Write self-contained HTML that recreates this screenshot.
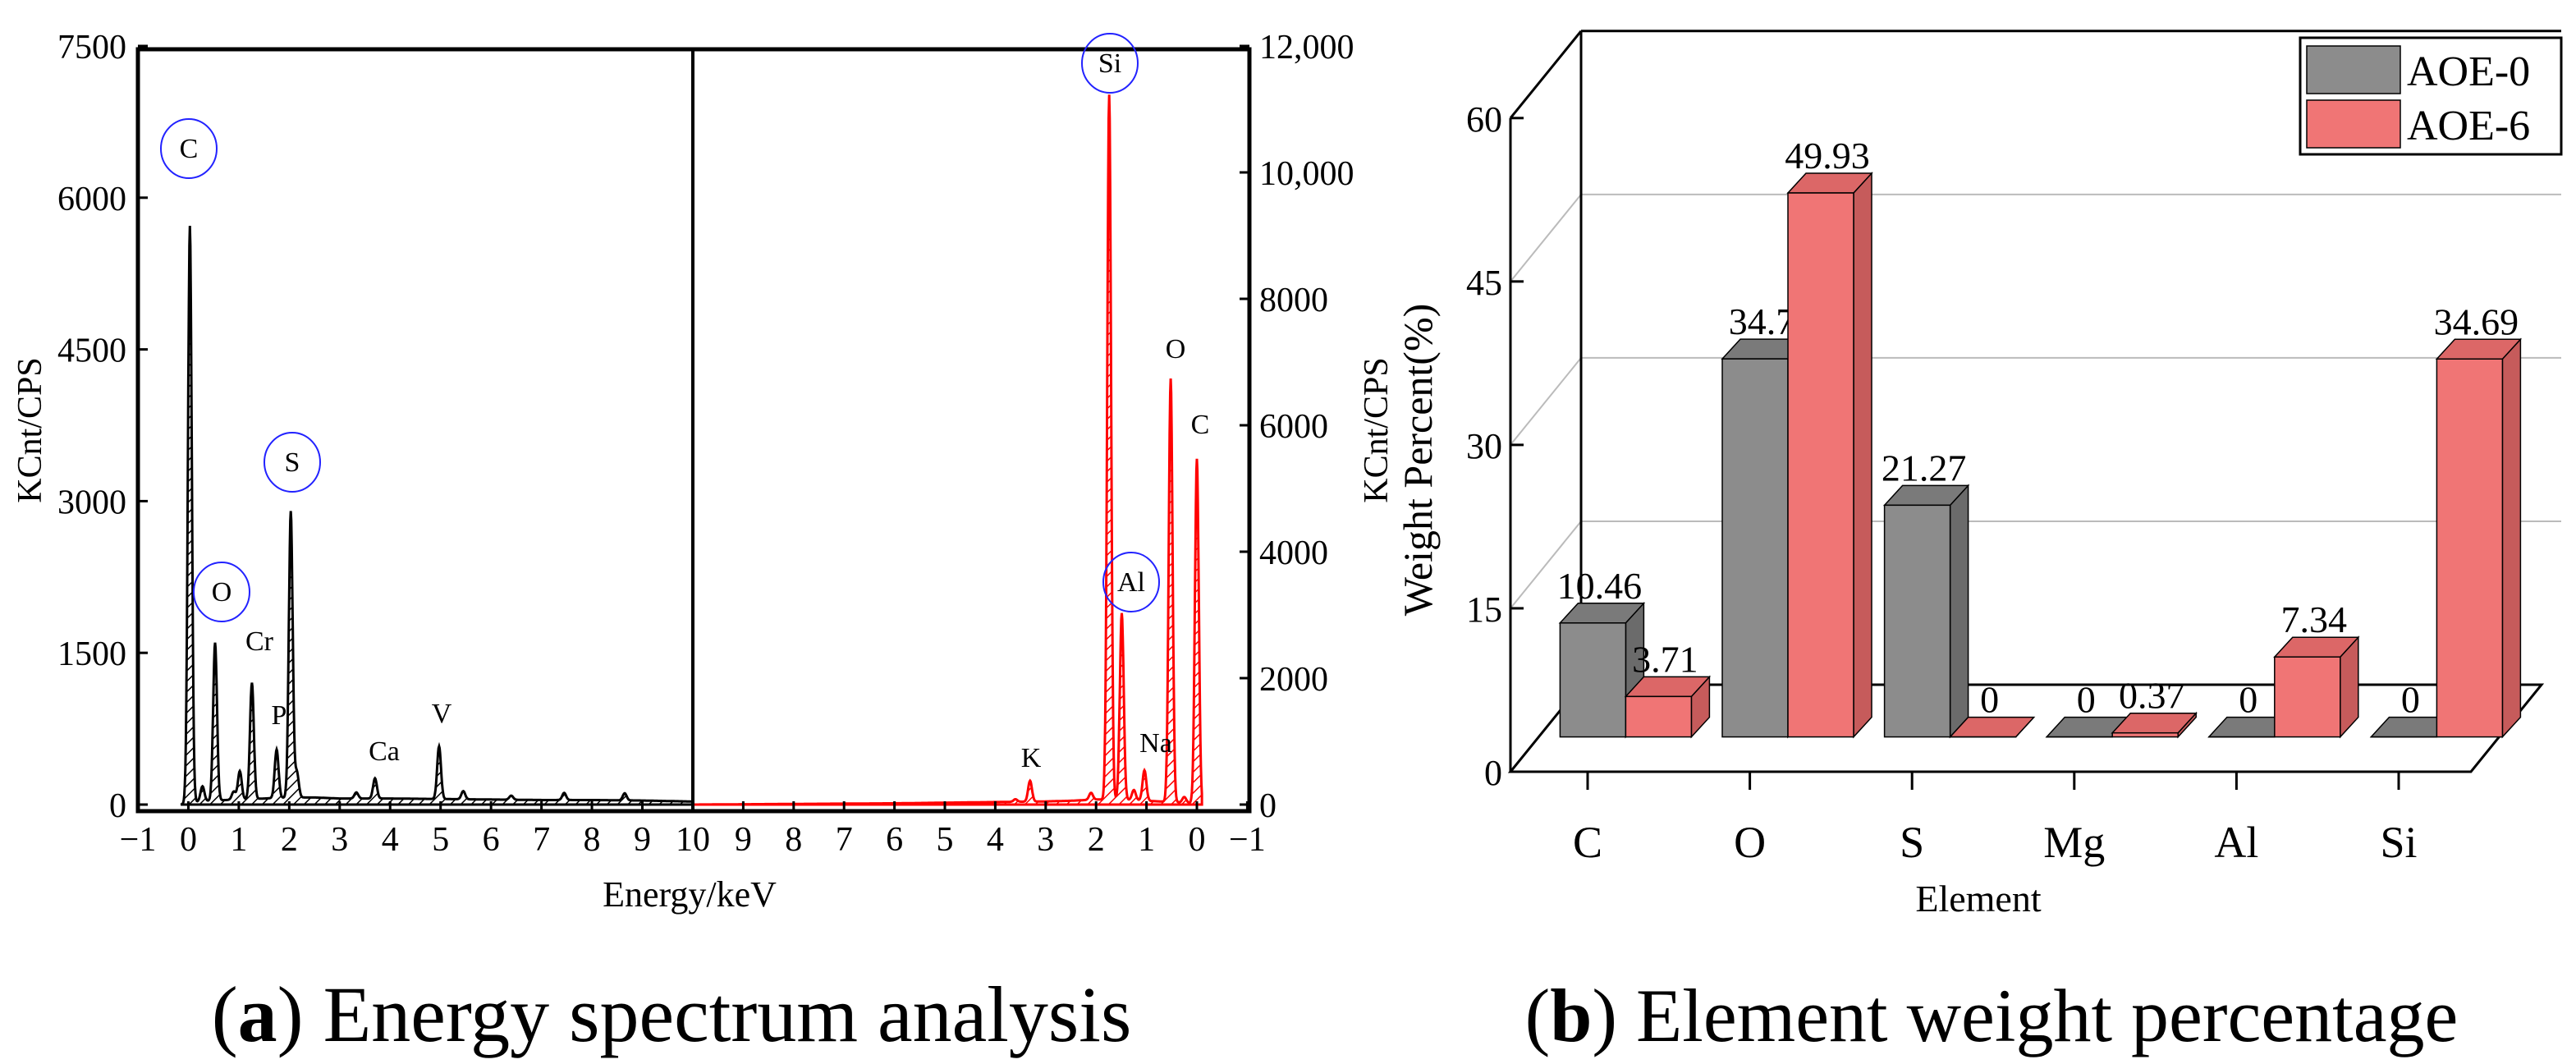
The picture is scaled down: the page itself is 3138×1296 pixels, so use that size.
<!DOCTYPE html>
<html><head><meta charset="utf-8"><style>
body{margin:0;background:#fff}
svg{display:block}
text{font-family:"Liberation Serif",serif}
</style></head><body>
<svg id="s" width="3138" height="1296" viewBox="0 0 3138 1296" xmlns="http://www.w3.org/2000/svg">
<defs>
<pattern id="hb" patternUnits="userSpaceOnUse" width="9" height="9" patternTransform="rotate(45)"><line x1="0" y1="0" x2="0" y2="9" stroke="#000" stroke-width="3"/></pattern>
<pattern id="hr" patternUnits="userSpaceOnUse" width="9" height="9" patternTransform="rotate(45)"><line x1="0" y1="0" x2="0" y2="9" stroke="#f00" stroke-width="3"/></pattern>
</defs>
<g id="spec"></g>
<g id="bar"></g>
<text x="818" y="1268" font-size="96" text-anchor="middle">(<tspan font-weight="bold">a</tspan>) Energy spectrum analysis</text>
<text x="2426" y="1268" font-size="92" text-anchor="middle">(<tspan font-weight="bold">b</tspan>) Element weight percentage</text>
</svg>
<script>
// ---- spectrum data ----
const peaksLeftE = [0.03, 0.28, 0.53, 0.9, 1.02, 1.26, 1.75, 2.03, 2.15, 3.33, 3.7, 4.97, 5.45, 6.4, 7.45, 8.65];
const peaksLeftC = [5700, 150, 1560, 80, 280, 1150, 480, 2830, 250, 60, 200, 520, 80, 40, 70, 70];
const baseLeftE = [-0.15, 0, 0.5, 1, 1.5, 2, 2.5, 3, 4, 5, 6, 7, 8, 9, 10];
const baseLeftC = [0, 20, 40, 50, 60, 70, 70, 60, 60, 55, 50, 45, 45, 40, 30];
const peaksRightE = [0.0, 0.25, 0.52, 1.04, 1.25, 1.49, 1.74, 2.1, 3.31, 3.6];
const peaksRightC = [5450, 90, 6700, 480, 160, 2950, 11150, 110, 330, 40];
const baseRightE = [-0.1, 0, 0.5, 1, 1.5, 2, 2.5, 3, 4, 5, 6, 7, 8, 9, 10];
const baseRightC = [0, 20, 40, 60, 80, 80, 60, 50, 40, 30, 20, 15, 10, 5, 0];
const leftTicks = [0, 1500, 3000, 4500, 6000, 7500];
const rightTicks = [0, 2000, 4000, 6000, 8000, 10000, 12000];
const rightTickLabels = ["0", "2000", "4000", "6000", "8000", "10,000", "12,000"];
const xTicksLeft = [-1, 0, 1, 2, 3, 4, 5, 6, 7, 8, 9, 10];
const xTicksRight = [9, 8, 7, 6, 5, 4, 3, 2, 1, 0, -1];
// ---- bar data ----
const elements = ["C", "O", "S", "Mg", "Al", "Si"];
const aoe0 = [10.46, 34.7, 21.27, 0, 0, 0];
const aoe6 = [3.71, 49.93, 0, 0.37, 7.34, 34.69];
const barTicks = [0, 15, 30, 45, 60];

const NS = "http://www.w3.org/2000/svg";
function mk(parent, tag, attrs, txt) {
  const e = document.createElementNS(NS, tag);
  for (const k in attrs) e.setAttribute(k, attrs[k]);
  if (txt !== undefined) e.textContent = txt;
  parent.appendChild(e);
  return e;
}
const spec = document.getElementById('spec');
const xL = e => 168 + (e + 1) * 61.45;
const xR = e => 1458 - e * 61.4;
const yL = c => 980 - c / 7500 * 924;
const yR = c => 980 - c / 12000 * 924;

function baseAt(E, C, e) {
  if (e <= E[0]) return C[0];
  for (let i = 1; i < E.length; i++) if (e <= E[i]) {
    const t = (e - E[i - 1]) / (E[i] - E[i - 1]); return C[i - 1] + t * (C[i] - C[i - 1]);
  }
  return C[C.length - 1];
}
function spectrum(pE, pC, bE, bC, e) {
  let v = baseAt(bE, bC, e);
  for (let i = 0; i < pE.length; i++) { const d = (e - pE[i]) / 0.038; v += pC[i] * Math.exp(-0.5 * d * d); }
  return v;
}
function specPath(pE, pC, bE, bC, fx, fy, e0) {
  let d = "M" + fx(e0) + "," + fy(0);
  for (let e = e0; e <= 10.0001; e += 0.01) d += " L" + fx(e).toFixed(1) + "," + fy(spectrum(pE, pC, bE, bC, e)).toFixed(1);
  d += " L" + fx(10) + "," + fy(0) + " Z";
  return d;
}
const pl = mk(spec, 'path', { d: specPath(peaksLeftE, peaksLeftC, baseLeftE, baseLeftC, xL, yL, -0.15), fill: 'url(#hb)', stroke: '#000', 'stroke-width': 3 });


const pr = mk(spec, 'path', { d: specPath(peaksRightE, peaksRightC, baseRightE, baseRightC, xR, yR, -0.1), fill: 'url(#hr)', stroke: '#f00', 'stroke-width': 3 });



const fr = mk(spec, 'rect', { x: 168, y: 60, width: 1354, height: 928, fill: 'none', stroke: '#000', 'stroke-width': 5 });


mk(spec, 'line', { x1: 844, y1: 60, x2: 844, y2: 988, stroke: '#000', 'stroke-width': 4 });
leftTicks.forEach(v => {
  mk(spec, 'line', { x1: 168, x2: 180, y1: yL(v), y2: yL(v), stroke: '#000', 'stroke-width': 3 });
  const t = mk(spec, 'text', { x: 154, y: yL(v) + 15, 'font-size': 42, 'text-anchor': 'end' }, String(v));
  
  
});
rightTicks.forEach((v, i) => {
  mk(spec, 'line', { x1: 1510, x2: 1522, y1: yR(v), y2: yR(v), stroke: '#000', 'stroke-width': 3 });
  const t = mk(spec, 'text', { x: 1534, y: yR(v) + 15, 'font-size': 42 }, rightTickLabels[i]);
  
  
});
xTicksLeft.forEach(v => {
  mk(spec, 'line', { x1: xL(v), x2: xL(v), y1: 988, y2: 976, stroke: '#000', 'stroke-width': 3 });
  const t = mk(spec, 'text', { x: xL(v), y: 1036, 'font-size': 42, 'text-anchor': 'middle' }, v < 0 ? '\u2212' + (-v) : String(v));
  
  
});
xTicksRight.forEach(v => {
  mk(spec, 'line', { x1: xR(v), x2: xR(v), y1: 988, y2: 976, stroke: '#000', 'stroke-width': 3 });
  const t = mk(spec, 'text', { x: xR(v), y: 1036, 'font-size': 42, 'text-anchor': 'middle' }, v < 0 ? '\u2212' + (-v) : String(v));
  
  
});
let t0 = mk(spec, 'text', { x: 840, y: 1104, 'font-size': 44, 'text-anchor': 'middle' }, 'Energy/keV');


t0 = mk(spec, 'text', { x: 50, y: 524, 'font-size': 42, 'text-anchor': 'middle', transform: 'rotate(-90 50 524)' }, 'KCnt/CPS');


t0 = mk(spec, 'text', { x: 1690, y: 524, 'font-size': 42, 'text-anchor': 'middle', transform: 'rotate(-90 1690 524)' }, 'KCnt/CPS');



const peakLabels = [["C", 230, 192, 1], ["O", 270, 732, 1], ["S", 356, 574, 1], ["Cr", 316, 792, 0], ["P", 340, 882, 0], ["Ca", 468, 926, 0], ["V", 538, 880, 0], ["Si", 1352, 88, 1], ["Al", 1378, 720, 1], ["K", 1256, 934, 0], ["Na", 1408, 916, 0], ["O", 1432, 436, 0], ["C", 1462, 528, 0]];
peakLabels.forEach(p => {
  if (p[3]) {
    const c = mk(spec, 'ellipse', { cx: p[1], cy: p[2] - 11, rx: 34, ry: 36, fill: 'none', stroke: '#22f', 'stroke-width': 2 });
    
    
  }
  const t = mk(spec, 'text', { x: p[1], y: p[2], 'font-size': 34, 'text-anchor': 'middle' }, p[0]);
  
  
});

// ---- 3D bar chart ----
const bar = document.getElementById('bar');
const X0 = 1840, Y0 = 940, S = 13.27, DX = 86, DY = -106;
const yv = v => Y0 - v * S;
const grid = '#bbb';
barTicks.forEach(v => {
  if (v > 0) {
    const g = mk(bar, 'line', { x1: X0 + DX, x2: 3120, y1: yv(v) + DY, y2: yv(v) + DY, stroke: v === 60 ? '#000' : grid, 'stroke-width': v === 60 ? 3 : 2 });
    
    
    mk(bar, 'line', { x1: X0, y1: yv(v), x2: X0 + DX, y2: yv(v) + DY, stroke: v === 60 ? '#000' : grid, 'stroke-width': v === 60 ? 3 : 2 });
  }
  mk(bar, 'line', { x1: X0, x2: X0 + 16, y1: yv(v), y2: yv(v), stroke: '#000', 'stroke-width': 3 });
  const t = mk(bar, 'text', { x: X0 - 10, y: yv(v) + 16, 'font-size': 44, 'text-anchor': 'end' }, String(v));
  
  
});
mk(bar, 'line', { x1: X0 + DX, x2: X0 + DX, y1: yv(60) + DY, y2: Y0 + DY, stroke: '#000', 'stroke-width': 3 });
mk(bar, 'line', { x1: X0, x2: X0, y1: yv(60), y2: Y0, stroke: '#000', 'stroke-width': 3 });
const floor = mk(bar, 'polygon', { points: `${X0},${Y0} 3010,${Y0} ${3010 + DX},${Y0 + DY} ${X0 + DX},${Y0 + DY}`, fill: 'none', stroke: '#000', 'stroke-width': 3 });



const BB = Y0 + 0.4 * DY, BDX = 0.4 * DX, SP = 197.6, BW = 80, ddx = 22, ddy = -24;
function box(x, v, face, side, top, name) {
  const h = v * S, yt = BB - h;
  const g = mk(bar, 'g', {});
  
  
  mk(g, 'polygon', { points: `${x + BW},${BB} ${x + BW + ddx},${BB + ddy} ${x + BW + ddx},${yt + ddy} ${x + BW},${yt}`, fill: side, stroke: '#000', 'stroke-width': 1.5 });
  mk(g, 'polygon', { points: `${x},${yt} ${x + ddx},${yt + ddy} ${x + BW + ddx},${yt + ddy} ${x + BW},${yt}`, fill: top, stroke: '#000', 'stroke-width': 1.5 });
  mk(g, 'rect', { x: x, y: yt, width: BW, height: Math.max(h, 0.01), fill: face, stroke: '#000', 'stroke-width': 1.5 });
  return yt;
}
elements.forEach((el, i) => {
  const tick = 1934 + i * SP;
  const gx = tick - 34 + BDX - 34;
  const yt0 = box(gx, aoe0[i], '#8c8c8c', '#6b6b6b', '#7a7a7a', 'bar-aoe0-' + el.toLowerCase());
  let t = mk(bar, 'text', { x: gx + BW / 2 + 8, y: yt0 + ddy - 6, 'font-size': 46, 'text-anchor': 'middle' }, String(aoe0[i]));
  
  
  const yt1 = box(gx + BW, aoe6[i], '#f07575', '#c65b5b', '#dc6767', 'bar-aoe6-' + el.toLowerCase());
  t = mk(bar, 'text', { x: gx + BW * 1.5 + 8, y: yt1 + ddy - 6, 'font-size': 46, 'text-anchor': 'middle' }, String(aoe6[i]));
  
  
  mk(bar, 'line', { x1: tick, x2: tick, y1: Y0, y2: Y0 + 22, stroke: '#000', 'stroke-width': 3 });
  t = mk(bar, 'text', { x: tick, y: 1044, 'font-size': 54, 'text-anchor': 'middle' }, el);
  
  
});
let tb = mk(bar, 'text', { x: 2410, y: 1110, 'font-size': 46, 'text-anchor': 'middle' }, 'Element');


tb = mk(bar, 'text', { x: 1744, y: 560, 'font-size': 50, 'text-anchor': 'middle', transform: 'rotate(-90 1744 560)' }, 'Weight Percent(%)');


const lg = mk(bar, 'g', {});


mk(lg, 'rect', { x: 2802, y: 46, width: 318, height: 142, fill: '#fff', stroke: '#000', 'stroke-width': 3 });
mk(lg, 'rect', { x: 2810, y: 56, width: 114, height: 58, fill: '#8c8c8c', stroke: '#000', 'stroke-width': 1.5 });
mk(lg, 'rect', { x: 2810, y: 122, width: 114, height: 58, fill: '#f07575', stroke: '#000', 'stroke-width': 1.5 });
tb = mk(lg, 'text', { x: 2932, y: 104, 'font-size': 52 }, 'AOE-0');


tb = mk(lg, 'text', { x: 2932, y: 170, 'font-size': 52 }, 'AOE-6');


</script>
</body></html>
